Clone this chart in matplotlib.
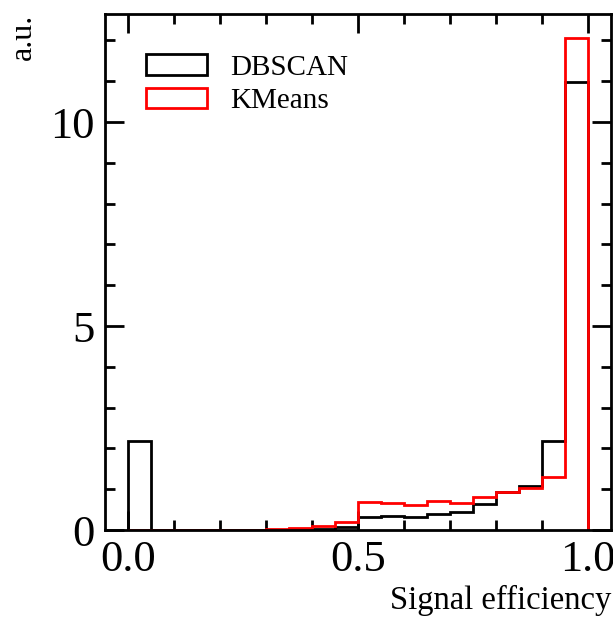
import numpy as np
import matplotlib
matplotlib.use("Agg")
import matplotlib.pyplot as plt
from matplotlib.ticker import MultipleLocator

# density-normalised histograms, 20 bins of width 0.05 on [0, 1]
bin_edges = np.linspace(0.0, 1.0, 21)
dbscan = [2.19, 0, 0, 0, 0, 0, 0, 0.01, 0.03, 0.08,
          0.31, 0.34, 0.33, 0.39, 0.45, 0.65, 0.94, 1.08, 2.17, 10.99]
kmeans = [0, 0, 0, 0, 0, 0, 0.02, 0.04, 0.10, 0.19,
          0.69, 0.67, 0.61, 0.71, 0.67, 0.82, 0.94, 1.02, 1.31, 12.05]
labels = ["DBSCAN", "KMeans"]
colors = ["black", "red"]

plt.rcParams["font.family"] = ["Liberation Serif", "DejaVu Serif"]
plt.rcParams["mathtext.fontset"] = "stix"

fig = plt.figure(figsize=(6.13, 6.21), dpi=100)
ax = fig.add_axes([0.171, 0.1465, 0.826, 0.831])

centres = 0.5 * (bin_edges[:-1] + bin_edges[1:])
for vals, lab, col in zip([dbscan, kmeans], labels, colors):
    ax.hist(centres, bins=bin_edges, weights=vals, histtype="step",
            color=col, lw=2.0, label=lab)

ax.set_xlim(-0.05, 1.05)
ax.set_ylim(0, 12.65)
ax.xaxis.set_major_locator(MultipleLocator(0.5))
ax.xaxis.set_minor_locator(MultipleLocator(0.1))
ax.yaxis.set_major_locator(MultipleLocator(5))
ax.yaxis.set_minor_locator(MultipleLocator(1))
ax.tick_params(which="both", direction="in", top=True, right=True, width=2)
ax.tick_params(which="major", length=14, labelsize=32, pad=7)
ax.tick_params(which="minor", length=7)
for sp in ax.spines.values():
    sp.set_linewidth(2)

ax.set_xlabel("Signal efficiency", fontsize=23.5, loc="right", labelpad=4)
ax.set_ylabel("a.u.", fontsize=23, loc="top", labelpad=9)

ax.legend(loc="upper left", bbox_to_anchor=(0.081, 0.922), frameon=False,
          fontsize=21, borderpad=0, borderaxespad=0, handlelength=2.1,
          handletextpad=0.8, labelspacing=0.25)

fig.savefig("out.png", dpi=100)
